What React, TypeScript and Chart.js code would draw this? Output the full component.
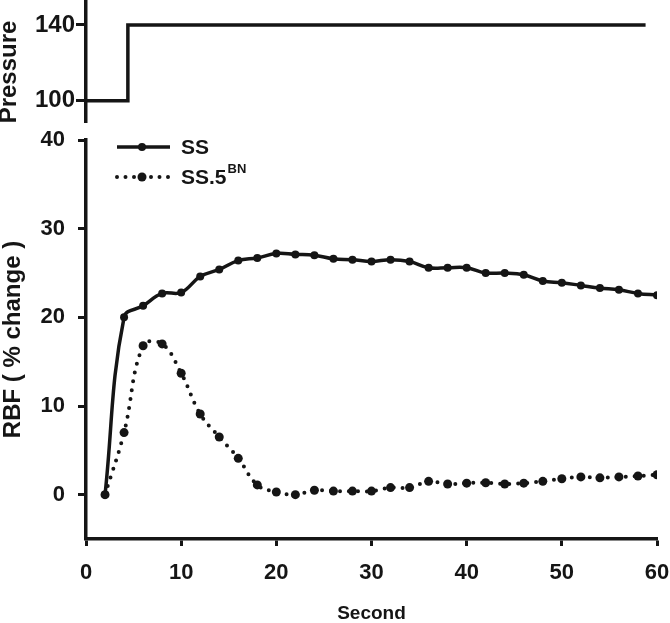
import React, { useEffect, useRef } from 'react';
import { Chart, registerables } from 'chart.js';

Chart.register(...registerables);

// ---- data ----
const seconds = [2, 4, 6, 8, 10, 12, 14, 16, 18, 20, 22, 24, 26, 28, 30, 32, 34, 36, 38, 40, 42, 44, 46, 48, 50, 52, 54, 56, 58, 60];
const ssValues = [0, 20.0, 21.3, 22.7, 22.8, 24.6, 25.4, 26.4, 26.7, 27.2, 27.1, 27.0, 26.6, 26.5, 26.3, 26.5, 26.3, 25.6, 25.6, 25.6, 25.0, 25.0, 24.8, 24.1, 23.9, 23.6, 23.3, 23.1, 22.7, 22.5];
const ss5bnValues = [0, 7.0, 16.8, 17.0, 13.7, 9.1, 6.5, 4.1, 1.1, 0.3, 0.0, 0.5, 0.4, 0.4, 0.4, 0.8, 0.8, 1.5, 1.2, 1.3, 1.35, 1.2, 1.3, 1.5, 1.8, 2.0, 1.9, 2.0, 2.1, 2.25];
const pressureSeconds = [0, 4.4, 4.4, 58.8];
const pressureValues = [100, 100, 140, 140];
const rbfTicks = [0, 10, 20, 30, 40];
const pressureTicks = [100, 140];
const seriesLabels = ['SS', 'SS.5'];
const seriesSup = ['', 'BN'];
const xTitle = 'Second';
const yTitle = 'RBF ( % change )';
const pressureTitle = 'Pressure';

const INK = '#151515';
const FONT = '"Liberation Sans", Arial, Helvetica, sans-serif';

const legendPlugin = {
  id: 'rbfLegend',
  afterDraw(chart: any) {
    const { ctx, chartArea } = chart;
    const x0 = chartArea.left + 31;
    const x1 = chartArea.left + 84;
    const xm = chartArea.left + 56;
    const rowsY = [chartArea.top + 7, chartArea.top + 37];
    ctx.save();
    chart.data.datasets.forEach((ds: any, i: number) => {
      const y = rowsY[i];
      ctx.strokeStyle = INK;
      ctx.fillStyle = INK;
      ctx.lineWidth = ds.borderWidth;
      ctx.lineCap = ds.borderDash ? 'round' : 'butt';
      ctx.setLineDash(ds.borderDash ? [0, 8.5] : []);
      ctx.beginPath();
      ctx.moveTo(x0, y);
      ctx.lineTo(x1, y);
      ctx.stroke();
      ctx.setLineDash([]);
      ctx.beginPath();
      ctx.arc(xm, y, ds.pointRadius, 0, Math.PI * 2);
      ctx.fill();
      ctx.font = `bold 21px ${FONT}`;
      ctx.textBaseline = 'middle';
      ctx.textAlign = 'left';
      const tx = chartArea.left + 95;
      ctx.fillText(seriesLabels[i], tx, y + 1);
      if (seriesSup[i]) {
        const w = ctx.measureText(seriesLabels[i]).width;
        ctx.font = `bold 13px ${FONT}`;
        ctx.fillText(seriesSup[i], tx + w + 1, y - 8);
      }
    });
    ctx.restore();
  },
};

const pressureTitlePlugin = {
  id: 'pressureTitle',
  afterDraw(chart: any) {
    const { ctx, chartArea } = chart;
    ctx.save();
    ctx.translate(9, chartArea.top + 72);
    ctx.rotate(-Math.PI / 2);
    ctx.textAlign = 'center';
    ctx.textBaseline = 'middle';
    ctx.fillStyle = INK;
    ctx.font = `bold 24px ${FONT}`;
    ctx.fillText(pressureTitle, 0, 0);
    ctx.restore();
  },
};

const noPad = (scale: any) => {
  scale.paddingLeft = 0;
  scale.paddingRight = 0;
  scale.paddingTop = 0;
  scale.paddingBottom = 0;
};

export default function App() {
  const topRef = useRef<HTMLCanvasElement>(null);
  const botRef = useRef<HTMLCanvasElement>(null);

  useEffect(() => {
    Chart.defaults.font.family = FONT;
    Chart.defaults.color = INK;

    const top = new Chart(topRef.current as HTMLCanvasElement, {
      type: 'line',
      data: {
        datasets: [
          {
            label: 'Pressure',
            data: pressureSeconds.map((s, i) => ({ x: s, y: pressureValues[i] })),
            borderColor: INK,
            borderWidth: 3.5,
            pointRadius: 0,
            tension: 0,
          },
        ],
      },
      options: {
        responsive: false,
        animation: false,
        devicePixelRatio: 1,
        events: [],
        layout: { padding: { top: 0, left: 0, right: 13, bottom: 12 } },
        plugins: { legend: { display: false }, tooltip: { enabled: false } },
        scales: {
          x: { type: 'linear', min: 0, max: 60, display: false },
          y: {
            min: 88.7,
            max: 153.2,
            afterBuildTicks: (scale: any) => {
              scale.ticks = pressureTicks.map((v) => ({ value: v }));
            },
            afterFit: (scale: any) => {
              scale.width = 86;
              noPad(scale);
            },
            ticks: { font: { size: 24, weight: 'bold' }, color: INK, padding: 1 },
            grid: { drawOnChartArea: false, drawTicks: true, tickLength: 10, tickWidth: 3, tickColor: INK },
            border: { display: true, width: 3.5, color: INK },
          },
        },
      },
      plugins: [pressureTitlePlugin],
    } as any);

    const bot = new Chart(botRef.current as HTMLCanvasElement, {
      type: 'line',
      data: {
        datasets: [
          {
            label: 'SS',
            data: seconds.map((s, i) => ({ x: s, y: ssValues[i] })),
            borderColor: INK,
            backgroundColor: INK,
            borderWidth: 3.5,
            pointRadius: 4,
            pointBorderWidth: 0,
            tension: 0.4,
          },
          {
            label: 'SS.5BN',
            data: seconds.map((s, i) => ({ x: s, y: ss5bnValues[i] })),
            borderColor: INK,
            backgroundColor: INK,
            borderWidth: 4,
            borderDash: [0, 9],
            borderCapStyle: 'round',
            pointRadius: 4.5,
            pointBorderWidth: 0,
            tension: 0.4,
          },
        ],
      },
      options: {
        responsive: false,
        animation: false,
        devicePixelRatio: 1,
        events: [],
        layout: { padding: { top: 140, left: 0, right: 13, bottom: 0 } },
        plugins: { legend: { display: false }, tooltip: { enabled: false } },
        scales: {
          x: {
            type: 'linear',
            min: 0,
            max: 60,
            afterFit: (scale: any) => {
              scale.height = 84;
              noPad(scale);
            },
            ticks: { stepSize: 10, font: { size: 22, weight: 'bold' }, color: INK, padding: 14, maxRotation: 0 },
            grid: { drawOnChartArea: false, drawTicks: true, tickLength: 7, tickWidth: 3, tickColor: INK },
            border: { display: true, width: 3.5, color: INK },
            title: { display: true, text: xTitle, font: { size: 19, weight: 'bold' }, color: INK, padding: { top: 0, bottom: -2 } },
          },
          y: {
            min: -5,
            max: 40,
            afterBuildTicks: (scale: any) => {
              scale.ticks = rbfTicks.map((v) => ({ value: v }));
            },
            afterFit: (scale: any) => {
              scale.width = 86;
              noPad(scale);
            },
            ticks: { font: { size: 22, weight: 'bold' }, color: INK, padding: 13 },
            grid: { drawOnChartArea: false, drawTicks: true, tickLength: 8, tickWidth: 3, tickColor: INK },
            border: { display: true, width: 3.5, color: INK },
            title: { display: true, text: yTitle, font: { size: 24, weight: 'bold' }, color: INK, padding: { top: -1, bottom: 0 } },
          },
        },
      },
      plugins: [legendPlugin],
    } as any);

    return () => {
      top.destroy();
      bot.destroy();
    };
  }, []);

  return (
    <div style={{ position: 'absolute', left: 0, top: 0, width: 670, height: 623, background: '#fff', overflow: 'hidden' }}>
      <canvas ref={botRef} width={670} height={623} style={{ position: 'absolute', left: 0, top: 0 }} />
      <canvas ref={topRef} width={670} height={134} style={{ position: 'absolute', left: 0, top: 0 }} />
    </div>
  );
}
